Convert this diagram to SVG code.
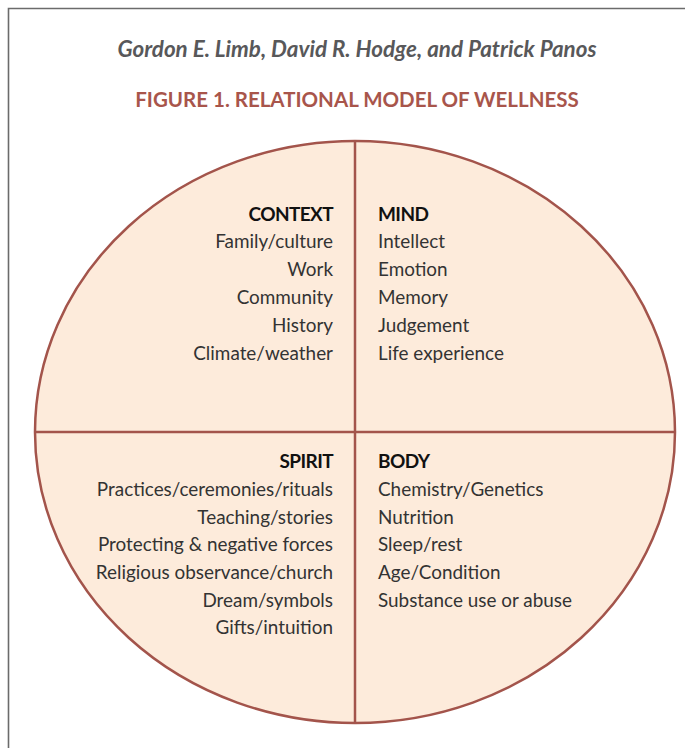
<svg xmlns="http://www.w3.org/2000/svg" width="685" height="748" viewBox="0 0 685 748">
<style>
.frame{stroke:#6b6b6b;stroke-width:1.6;fill:none}
.shape{fill:#fdebdb;stroke:#a3544b;stroke-width:2.5}
.div{stroke:#a3544b;stroke-width:2.5;fill:none}
.author{font-family:Lato,"Liberation Sans",sans-serif;font-style:italic;font-weight:bold;font-size:22.4px;fill:#58585a}
.title{font-family:Lato,"Liberation Sans",sans-serif;font-weight:bold;font-size:20.5px;fill:#a8554b}
.head{font-family:Lato,"Liberation Sans",sans-serif;font-weight:bold;font-size:19px;letter-spacing:-0.6px;fill:#111}
.item{font-family:Lato,"Liberation Sans",sans-serif;font-size:18.9px;fill:#333}
.r{text-anchor:end}
</style>
<rect width="685" height="748" fill="#ffffff"/>
<path class="frame" d="M8.5 748 V8.5 H685"/>
<text class="author" x="357" y="57" text-anchor="middle">Gordon E. Limb, David R. Hodge, and Patrick Panos</text>
<text class="title" x="357" y="107" text-anchor="middle">FIGURE 1. RELATIONAL MODEL OF WELLNESS</text>
<g id="wheel">
<ellipse class="shape" cx="355" cy="432" rx="320" ry="291"/>
</g>
<g id="connectors">
<line class="div" x1="35" y1="432" x2="675" y2="432"/>
<line class="div" x1="355" y1="141" x2="355" y2="723"/>
</g>
<g id="context">
<text class="head r" x="333" y="221">CONTEXT</text>
<text class="item r" x="333" y="248">Family/culture</text>
<text class="item r" x="333" y="276">Work</text>
<text class="item r" x="333" y="304">Community</text>
<text class="item r" x="333" y="332">History</text>
<text class="item r" x="333" y="360">Climate/weather</text>
</g>
<g id="mind">
<text class="head" x="378" y="221">MIND</text>
<text class="item" x="378" y="248">Intellect</text>
<text class="item" x="378" y="276">Emotion</text>
<text class="item" x="378" y="304">Memory</text>
<text class="item" x="378" y="332">Judgement</text>
<text class="item" x="378" y="360">Life experience</text>
</g>
<g id="spirit">
<text class="head r" x="333" y="468">SPIRIT</text>
<text class="item r" x="333" y="496">Practices/ceremonies/rituals</text>
<text class="item r" x="333" y="524">Teaching/stories</text>
<text class="item r" x="333" y="551">Protecting &amp; negative forces</text>
<text class="item r" x="333" y="579">Religious observance/church</text>
<text class="item r" x="333" y="607">Dream/symbols</text>
<text class="item r" x="333" y="634">Gifts/intuition</text>
</g>
<g id="body">
<text class="head" x="378" y="468">BODY</text>
<text class="item" x="378" y="496">Chemistry/Genetics</text>
<text class="item" x="378" y="524">Nutrition</text>
<text class="item" x="378" y="551">Sleep/rest</text>
<text class="item" x="378" y="579">Age/Condition</text>
<text class="item" x="378" y="607">Substance use or abuse</text>
</g>
</svg>
